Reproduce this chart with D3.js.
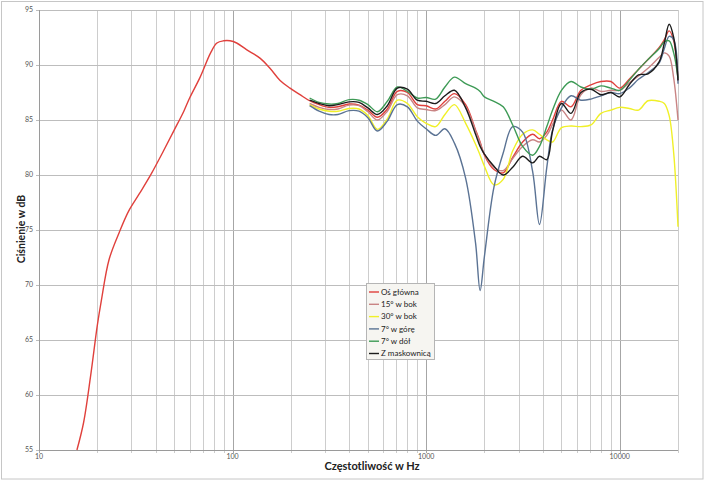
<!DOCTYPE html>
<html><head><meta charset="utf-8">
<script src="https://cdn.jsdelivr.net/npm/d3@7"></script>
<style>body{margin:0;background:#fff}svg{display:block}</style>
</head><body><svg id="c" width="705" height="481"></svg>
<script>
// ---- data ----
const lowFreq = [15.7, 17, 18.5, 20, 21, 23, 26, 29, 33, 38, 44, 50, 56, 60, 68, 77, 83, 90, 97, 105, 118, 139, 156, 176, 198, 223];
const lowMain = [55.0, 57.5, 61.8, 66.3, 68.6, 72.3, 74.8, 76.7, 78.3, 80.1, 82.2, 84.1, 85.8, 87.0, 88.9, 91.1, 92.0, 92.2, 92.2, 92.0, 91.4, 90.6, 89.7, 88.6, 87.9, 87.3];
const freq = [250, 280, 315, 350, 400, 450, 500, 560, 630, 710, 800, 900, 1000, 1120, 1250, 1400, 1600, 1800, 1900, 2000, 2240, 2500, 2800, 3150, 3550, 3850, 4200, 4500, 5000, 5600, 6300, 7100, 8000, 9000, 10000, 11200, 12500, 14000, 16000, 17000, 18000, 19000, 20000];
const mainAxis = [86.75, 86.4, 86.15, 86.2, 86.45, 86.35, 85.9, 85.25, 86.0, 87.6,
  87.5, 86.4, 86.3, 86.0, 86.7, 87.4, 86.4, 84.1, 83.0, 81.8,
  80.5, 80.2, 81.6, 83.0, 83.7, 83.3, 83.9, 85.0, 86.7, 86.2,
  87.7, 88.2, 88.5, 88.5, 87.9, 88.7, 89.6, 90.5, 91.6, 92.3,
  93.1, 92.2, 88.6];
const side15 = [86.5, 86.15, 85.95, 86.0, 86.35, 86.3, 85.75, 85.0, 85.8, 87.3,
  87.2, 86.1, 85.95, 85.85, 86.4, 87.1, 86.2, 84.0, 82.9, 81.9,
  80.7, 80.4, 81.5, 82.6, 83.2, 83.0, 83.6, 84.6, 85.9, 85.0,
  87.3, 87.9, 87.6, 87.7, 87.7, 88.4, 89.0, 89.7, 90.7, 91.1,
  90.8, 88.8, 85.0];
const side30 = [86.4, 86.0, 85.8, 85.8, 86.05, 86.0, 85.4, 84.15, 85.1, 86.8,
  86.5, 85.3, 84.7, 84.4, 85.5, 86.4, 84.7, 82.8, 81.8, 80.8,
  79.1, 79.6, 82.2, 83.7, 84.1, 83.7, 83.2, 83.0, 84.3, 84.45,
  84.4, 84.55, 85.6, 85.9, 86.15, 86.05, 85.9, 86.75, 86.7, 86.5,
  85.4, 82.0, 75.3];
const up7 = [86.3, 85.8, 85.5, 85.5, 85.85, 85.8, 85.2, 84.0, 84.9, 86.4,
  86.2, 84.9, 84.2, 83.6, 84.2, 82.9, 79.7, 73.8, 69.5, 72.6,
  78.9, 82.0, 84.4, 83.9, 80.3, 75.5, 80.7, 84.1, 86.1, 87.2,
  86.8, 86.9, 87.2, 87.5, 87.4, 87.9, 88.7, 89.3, 90.2, 91.5,
  92.6, 92.3, 88.3];
const down7 = [87.0, 86.6, 86.45, 86.5, 86.85, 86.8, 86.4, 85.75, 86.7, 88.0,
  87.6, 87.0, 87.05, 86.9, 88.0, 88.9, 88.3, 87.9, 87.6, 87.1,
  86.7, 86.2, 84.55, 82.6, 81.8, 82.6, 84.4, 85.9, 87.7, 88.5,
  88.0, 87.8, 88.1, 87.9, 87.7, 88.6, 89.6, 90.5, 91.5, 92.1,
  92.2, 91.1, 88.8];
const grille = [86.8, 86.5, 86.3, 86.4, 86.65, 86.6, 86.1, 85.5, 86.3, 87.9,
  87.8, 86.8, 86.7, 86.5, 87.2, 87.7, 86.1, 83.7, 82.6, 81.9,
  80.8, 80.0, 80.7, 81.7, 81.1, 81.7, 81.4, 84.0, 86.5, 85.6,
  87.5, 87.8, 87.3, 87.5, 87.1, 88.2, 89.1, 89.2, 90.3, 92.0,
  93.7, 92.5, 88.6];
const seriesNames = ["Oś główna", "15° w bok", "30° w bok", "7° w górę", "7° w dół", "Z maskownicą"];
const xTickValues = [10, 100, 1000, 10000];
const yTickValues = [55, 60, 65, 70, 75, 80, 85, 90, 95];
const xTitle = "Częstotliwość w Hz";
const yTitle = "Ciśnienie w dB";

// ---- styles ----
const seriesColors = ["#e0403c", "#c98484", "#f0f028", "#5b7394", "#3d9a55", "#1c1c1c"];
const font = "Lato, 'Open Sans', sans-serif";

const svg = d3.select("#c");
const W = 705, H = 481;
const m = {left: 39, right: 678, top: 10, bottom: 450};

svg.append("rect").attr("x", 1.5).attr("y", 1.5).attr("width", W - 3.5).attr("height", H - 3.5)
  .attr("fill", "#fff").attr("stroke", "#c6c6c6");

const x = d3.scaleLog().domain([10, 20000]).range([m.left, m.right]);
const y = d3.scaleLinear().domain([55, 95]).range([m.bottom, m.top]);

// grid
const vgrid = [];
for (const d of [10, 100, 1000, 10000]) for (let k = 1; k <= 9; k++) { const v = d * k; if (v <= 20000) vgrid.push(v); }
const g = svg.append("g");
g.selectAll("line.v").data(vgrid).join("line")
  .attr("x1", d => Math.round(x(d)) + 0.5).attr("x2", d => Math.round(x(d)) + 0.5)
  .attr("y1", m.top).attr("y2", m.bottom + 3)
  .attr("stroke", d => xTickValues.includes(d) ? "#a6a6a6" : "#cdcdcd").attr("stroke-width", 1);
g.selectAll("line.h").data(yTickValues).join("line")
  .attr("x1", m.left - 3).attr("x2", m.right)
  .attr("y1", d => Math.round(y(d)) + 0.5).attr("y2", d => Math.round(y(d)) + 0.5)
  .attr("stroke", "#bdbdbd").attr("stroke-width", 1);

// axis lines
svg.append("line").attr("x1", m.left + 0.5).attr("x2", m.left + 0.5).attr("y1", m.top).attr("y2", m.bottom)
  .attr("stroke", "#9a9a9a");
svg.append("line").attr("x1", m.left).attr("x2", m.right).attr("y1", m.bottom + 0.5).attr("y2", m.bottom + 0.5)
  .attr("stroke", "#9a9a9a");

// tick labels
svg.append("g").selectAll("text").data(yTickValues).join("text")
  .attr("x", m.left - 6).attr("y", d => y(d)).attr("dy", "0.35em")
  .attr("text-anchor", "end").attr("font-family", font).attr("font-size", 7).attr("fill", "#555")
  .text(d => d);
svg.append("g").selectAll("text").data(xTickValues).join("text")
  .attr("x", d => x(d)).attr("y", m.bottom + 8.5)
  .attr("text-anchor", "middle").attr("font-family", font).attr("font-size", 7).attr("fill", "#555")
  .text(d => d);

// titles
svg.append("text").attr("x", 372).attr("y", 470).attr("text-anchor", "middle")
  .attr("font-family", font).attr("font-weight", "bold").attr("font-size", 11).attr("fill", "#222")
  .text(xTitle);
svg.append("text").attr("transform", "translate(25,229) rotate(-90)").attr("text-anchor", "middle")
  .attr("font-family", font).attr("font-weight", "bold").attr("font-size", 10.5).attr("fill", "#222")
  .text(yTitle);

// series
const allSeries = [
  {f: lowFreq.concat(freq), v: lowMain.concat(mainAxis)},
  {f: freq, v: side15},
  {f: freq, v: side30},
  {f: freq, v: up7},
  {f: freq, v: down7},
  {f: freq, v: grille}
];
const line = d3.line().x(d => x(d[0])).y(d => y(d[1])).curve(d3.curveCatmullRom.alpha(0.5));
const plot = svg.append("g");
allSeries.forEach((s, i) => {
  const pts = s.f.map((f, j) => [f, s.v[j]]);
  plot.append("path").attr("d", line(pts)).attr("fill", "none")
    .attr("stroke", seriesColors[i]).attr("stroke-width", 1.4).attr("stroke-linejoin", "round");
});

// legend
const lg = svg.append("g");
lg.append("rect").attr("x", 366.5).attr("y", 283.5).attr("width", 68).attr("height", 76)
  .attr("fill", "#f6f5f1").attr("stroke", "#b5b5b5");
seriesNames.forEach((n, i) => {
  const yy = 292 + i * 12.3;
  lg.append("line").attr("x1", 369).attr("x2", 379).attr("y1", yy).attr("y2", yy)
    .attr("stroke", seriesColors[i]).attr("stroke-width", 1.4);
  lg.append("text").attr("x", 381).attr("y", yy).attr("dy", "0.35em")
    .attr("font-family", font).attr("font-size", 8).attr("fill", "#222").text(n);
});
</script>
</body></html>
